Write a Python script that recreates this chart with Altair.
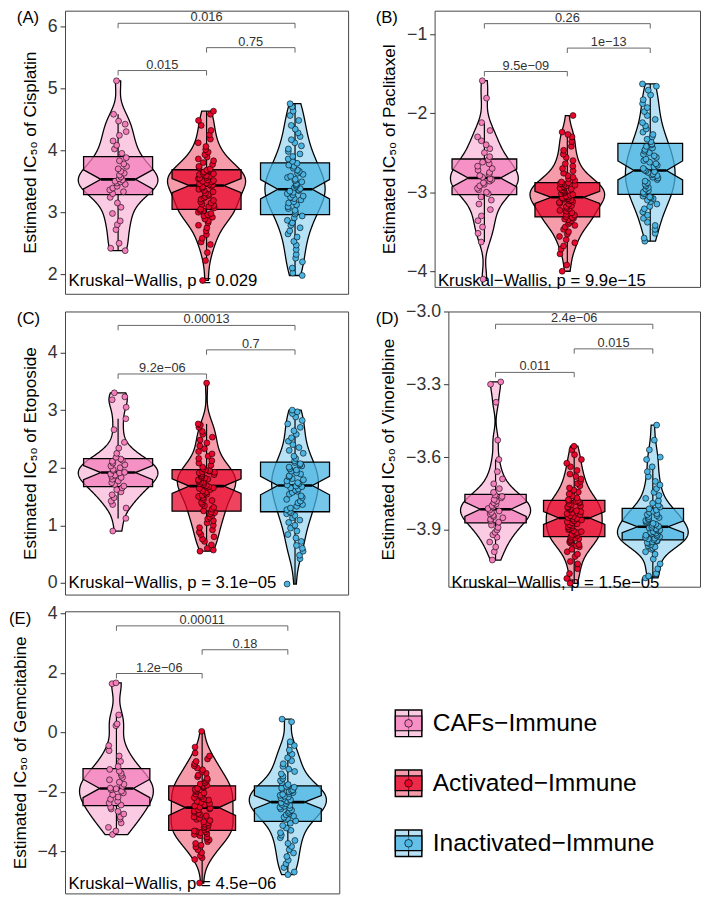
import altair as alt
import numpy as np
import pandas as pd

groups = ["CAFs−Immune", "Activated−Immune", "Inactivated−Immune"]
point_colors = ["#F47EBB", "#E8062B", "#4AB4E3"]
letters = ["(A)", "(B)", "(C)", "(D)", "(E)"]
drugs = ["Cisplatin", "Paclitaxel", "Etoposide", "Vinorelbine", "Gemcitabine"]

# ---- estimated IC50 values (per drug, per group) ----
cisplatin_cafs = [2.38, 2.42, 2.50, 2.72, 2.80, 2.86, 2.98, 3.08, 3.15, 3.24, 3.30, 3.33, 3.36, 3.39, 3.42, 3.45, 3.47, 3.49, 3.50, 3.52,
                  3.54, 3.57, 3.60, 3.63, 3.66, 3.70, 3.74, 3.78, 3.83, 3.88, 3.95, 4.02, 4.08, 4.15, 4.24, 4.30, 4.42, 4.47, 4.58, 5.12]
cisplatin_activated = [1.90, 2.22, 2.35, 2.48, 2.52, 2.58, 2.64, 2.70, 2.75, 2.79, 2.83, 2.86, 2.89, 2.92, 2.94, 2.96, 2.98, 3.00, 3.02, 3.03,
                       3.05, 3.07, 3.09, 3.11, 3.13, 3.15, 3.17, 3.19, 3.21, 3.23, 3.25, 3.27, 3.29, 3.31, 3.33, 3.35, 3.37, 3.39, 3.41, 3.42,
                       3.44, 3.45, 3.46, 3.47, 3.49, 3.50, 3.51, 3.52, 3.54, 3.55, 3.56, 3.58, 3.59, 3.61, 3.62, 3.63, 3.65, 3.66, 3.67, 3.68,
                       3.70, 3.72, 3.74, 3.77, 3.80, 3.83, 3.86, 3.89, 3.93, 3.97, 4.01, 4.06, 4.12, 4.18, 4.25, 4.32, 4.40, 4.48, 4.58, 4.63]
cisplatin_inactivated = [1.98, 2.02, 2.10, 2.20, 2.26, 2.32, 2.40, 2.47, 2.53, 2.60, 2.65, 2.70, 2.75, 2.79, 2.83, 2.87, 2.91, 2.94,
                         2.97, 3.00, 3.03, 3.06, 3.09, 3.12, 3.15, 3.17, 3.20, 3.22, 3.24, 3.26, 3.28, 3.30, 3.32, 3.34, 3.35, 3.36,
                         3.38, 3.40, 3.42, 3.44, 3.46, 3.49, 3.51, 3.53, 3.56, 3.58, 3.61, 3.63, 3.66, 3.68, 3.71, 3.74, 3.76, 3.79,
                         3.82, 3.86, 3.90, 3.94, 3.98, 4.02, 4.07, 4.12, 4.17, 4.22, 4.28, 4.34, 4.40, 4.48, 4.56, 4.63, 4.70, 4.75]

paclitaxel_cafs = [-4.10, -3.63, -3.52, -3.44, -3.36, -3.30, -3.22, -3.15, -3.10, -3.06, -3.02, -3.00, -2.97, -2.95, -2.92, -2.90, -2.88, -2.86, -2.84, -2.83,
                   -2.81, -2.79, -2.77, -2.75, -2.72, -2.70, -2.67, -2.64, -2.62, -2.59, -2.55, -2.50, -2.45, -2.40, -2.35, -2.30, -2.22, -2.12, -1.81, -1.59]
paclitaxel_activated = [-4.00, -3.92, -3.78, -3.72, -3.68, -3.64, -3.60, -3.56, -3.53, -3.50, -3.47, -3.44, -3.42, -3.40, -3.38, -3.36, -3.35, -3.34, -3.33, -3.32,
                        -3.31, -3.29, -3.28, -3.26, -3.24, -3.23, -3.21, -3.20, -3.18, -3.17, -3.15, -3.14, -3.13, -3.12, -3.11, -3.10, -3.09, -3.08, -3.08, -3.07,
                        -3.06, -3.05, -3.04, -3.03, -3.02, -3.01, -3.00, -2.99, -2.98, -2.97, -2.96, -2.95, -2.94, -2.93, -2.92, -2.91, -2.90, -2.89, -2.89, -2.88,
                        -2.87, -2.85, -2.83, -2.81, -2.79, -2.76, -2.73, -2.70, -2.67, -2.64, -2.60, -2.56, -2.52, -2.47, -2.42, -2.36, -2.30, -2.27, -2.24, -2.03]
paclitaxel_inactivated = [-3.62, -3.58, -3.52, -3.47, -3.42, -3.38, -3.33, -3.29, -3.25, -3.21, -3.18, -3.15, -3.12, -3.10, -3.08, -3.07, -3.06, -3.05,
                          -3.02, -3.00, -2.98, -2.96, -2.94, -2.92, -2.90, -2.88, -2.86, -2.84, -2.82, -2.81, -2.79, -2.78, -2.77, -2.75, -2.74, -2.73,
                          -2.72, -2.70, -2.68, -2.66, -2.64, -2.62, -2.60, -2.58, -2.56, -2.54, -2.52, -2.50, -2.48, -2.46, -2.44, -2.42, -2.40, -2.39,
                          -2.36, -2.33, -2.30, -2.27, -2.24, -2.20, -2.16, -2.12, -2.08, -2.03, -1.98, -1.93, -1.88, -1.83, -1.77, -1.71, -1.66, -1.63]

etoposide_cafs = [0.90, 1.12, 1.30, 1.36, 1.42, 1.48, 1.53, 1.58, 1.62, 1.65, 1.68, 1.71, 1.74, 1.77, 1.80, 1.83, 1.85, 1.87, 1.89, 1.91,
                  1.92, 1.95, 1.97, 2.00, 2.03, 2.05, 2.08, 2.11, 2.13, 2.15, 2.18, 2.25, 2.34, 2.44, 2.66, 2.85, 3.05, 3.18, 3.23, 3.30]
etoposide_activated = [0.55, 0.57, 0.60, 0.66, 0.72, 0.76, 0.80, 0.84, 0.88, 0.92, 0.96, 1.00, 1.04, 1.08, 1.11, 1.14, 1.17, 1.20, 1.22, 1.23,
                       1.25, 1.28, 1.31, 1.34, 1.37, 1.40, 1.43, 1.45, 1.48, 1.50, 1.52, 1.54, 1.56, 1.58, 1.60, 1.62, 1.64, 1.65, 1.66, 1.67,
                       1.69, 1.71, 1.72, 1.74, 1.75, 1.77, 1.79, 1.80, 1.82, 1.83, 1.85, 1.86, 1.88, 1.89, 1.91, 1.92, 1.93, 1.94, 1.95, 1.96,
                       1.98, 2.01, 2.04, 2.08, 2.12, 2.16, 2.20, 2.24, 2.28, 2.33, 2.38, 2.43, 2.48, 2.53, 2.58, 2.63, 2.70, 2.74, 2.76, 3.47]
etoposide_inactivated = [-0.02, 0.42, 0.48, 0.55, 0.60, 0.65, 0.72, 0.78, 0.84, 0.90, 0.95, 1.00, 1.05, 1.09, 1.13, 1.17, 1.20, 1.22,
                         1.24, 1.27, 1.30, 1.33, 1.36, 1.39, 1.42, 1.45, 1.48, 1.51, 1.54, 1.57, 1.59, 1.61, 1.63, 1.65, 1.67, 1.68,
                         1.70, 1.72, 1.74, 1.77, 1.79, 1.81, 1.84, 1.86, 1.89, 1.91, 1.94, 1.96, 1.98, 2.01, 2.03, 2.05, 2.07, 2.09,
                         2.12, 2.16, 2.20, 2.25, 2.30, 2.35, 2.40, 2.46, 2.52, 2.58, 2.64, 2.70, 2.76, 2.82, 2.88, 2.94, 2.97, 3.00]

vinorelbine_cafs = [-4.024, -3.99, -3.97, -3.95, -3.93, -3.92, -3.91, -3.90, -3.89, -3.88, -3.868, -3.862, -3.856, -3.850, -3.845, -3.840, -3.834, -3.828, -3.822, -3.818,
                    -3.812, -3.806, -3.800, -3.794, -3.788, -3.781, -3.775, -3.768, -3.762, -3.756, -3.745, -3.73, -3.71, -3.69, -3.66, -3.61, -3.53, -3.374, -3.30, -3.29]
vinorelbine_activated = [-4.12, -4.10, -4.08, -4.06, -4.04, -4.03, -4.01, -4.00, -3.99, -3.98, -3.97, -3.965, -3.96, -3.955, -3.95, -3.945, -3.94, -3.937, -3.934, -3.931,
                         -3.927, -3.923, -3.919, -3.915, -3.911, -3.907, -3.903, -3.899, -3.895, -3.891, -3.887, -3.883, -3.879, -3.875, -3.871, -3.867, -3.863, -3.859, -3.856, -3.853,
                         -3.849, -3.845, -3.841, -3.837, -3.833, -3.829, -3.825, -3.821, -3.817, -3.813, -3.809, -3.805, -3.801, -3.797, -3.793, -3.789, -3.786, -3.783, -3.781, -3.779,
                         -3.775, -3.768, -3.760, -3.752, -3.744, -3.736, -3.727, -3.718, -3.709, -3.70, -3.69, -3.68, -3.67, -3.655, -3.64, -3.625, -3.61, -3.59, -3.57, -3.555]
vinorelbine_inactivated = [-4.098, -4.09, -4.08, -4.06, -4.04, -4.02, -4.00, -3.99, -3.98, -3.975, -3.97, -3.965, -3.96, -3.955, -3.952, -3.949, -3.946, -3.944,
                           -3.940, -3.937, -3.934, -3.931, -3.928, -3.925, -3.922, -3.919, -3.916, -3.913, -3.910, -3.907, -3.904, -3.901, -3.898, -3.895, -3.892, -3.889,
                           -3.885, -3.881, -3.877, -3.873, -3.869, -3.865, -3.861, -3.857, -3.853, -3.849, -3.845, -3.841, -3.837, -3.833, -3.828, -3.823, -3.818, -3.813,
                           -3.806, -3.798, -3.790, -3.780, -3.770, -3.758, -3.745, -3.730, -3.715, -3.70, -3.68, -3.66, -3.64, -3.61, -3.60, -3.57, -3.53, -3.468]

gemcitabine_cafs = [-3.44, -3.32, -3.20, -3.05, -2.92, -2.85, -2.75, -2.66, -2.58, -2.52, -2.45, -2.38, -2.32, -2.25, -2.18, -2.10, -2.04, -1.98, -1.93, -1.90,
                    -1.88, -1.82, -1.75, -1.68, -1.60, -1.52, -1.45, -1.38, -1.31, -1.25, -1.15, -0.98, -0.80, -0.62, -0.45, 0.22, 0.28, 0.58, 1.63, 1.66]
gemcitabine_activated = [-5.07, -4.28, -4.22, -4.15, -4.05, -3.95, -3.86, -3.80, -3.74, -3.68, -3.62, -3.57, -3.52, -3.48, -3.44, -3.41, -3.38, -3.35, -3.33, -3.32,
                         -3.29, -3.25, -3.21, -3.17, -3.13, -3.09, -3.05, -3.01, -2.97, -2.93, -2.89, -2.85, -2.81, -2.77, -2.73, -2.69, -2.65, -2.61, -2.58, -2.55,
                         -2.52, -2.48, -2.44, -2.40, -2.36, -2.32, -2.28, -2.24, -2.20, -2.16, -2.12, -2.08, -2.04, -2.00, -1.96, -1.92, -1.89, -1.86, -1.83, -1.81,
                         -1.78, -1.74, -1.70, -1.65, -1.60, -1.55, -1.50, -1.44, -1.38, -1.32, -1.26, -1.20, -1.13, -1.06, -0.98, -0.90, -0.80, -0.70, -0.50, 0.03]
gemcitabine_inactivated = [-4.79, -4.70, -4.55, -4.42, -4.30, -4.18, -4.06, -3.95, -3.84, -3.74, -3.64, -3.55, -3.46, -3.38, -3.30, -3.22, -3.14, -3.06,
                           -2.98, -2.94, -2.90, -2.86, -2.82, -2.78, -2.74, -2.70, -2.66, -2.62, -2.58, -2.55, -2.52, -2.49, -2.46, -2.43, -2.40, -2.37,
                           -2.33, -2.30, -2.27, -2.24, -2.21, -2.18, -2.15, -2.12, -2.09, -2.06, -2.03, -2.00, -1.97, -1.94, -1.91, -1.88, -1.85, -1.82,
                           -1.76, -1.70, -1.63, -1.56, -1.48, -1.40, -1.32, -1.24, -1.15, -1.06, -0.96, -0.86, -0.74, -0.60, -0.45, -0.32, 0.35, 0.44]

panel_values = [
    [cisplatin_cafs, cisplatin_activated, cisplatin_inactivated],
    [paclitaxel_cafs, paclitaxel_activated, paclitaxel_inactivated],
    [etoposide_cafs, etoposide_activated, etoposide_inactivated],
    [vinorelbine_cafs, vinorelbine_activated, vinorelbine_inactivated],
    [gemcitabine_cafs, gemcitabine_activated, gemcitabine_inactivated],
]

# pairwise comparisons: (1 vs 2), (2 vs 3), (1 vs 3)
pairs = [(1, 2), (2, 3), (1, 3)]
pair_labels = [["0.015", "0.75", "0.016"],
               ["9.5e−09", "1e−13", "0.26"],
               ["9.2e−06", "0.7", "0.00013"],
               ["0.011", "0.015", "2.4e−06"],
               ["1.2e−06", "0.18", "0.00011"]]
bracket_heights = [[5.285, 5.654, 6.047],
                   [-1.473, -1.177, -0.868],
                   [3.627, 4.046, 4.47],
                   [-3.251, -3.154, -3.0526],
                   [1.974, 2.773, 3.576]]
bracket_tips = [0.08, 0.062, 0.085, 0.02, 0.165]
kw_labels = ["Kruskal−Wallis, p = 0.029", "Kruskal−Wallis, p = 9.9e−15", "Kruskal−Wallis, p = 3.1e−05",
             "Kruskal−Wallis, p = 1.5e−05", "Kruskal−Wallis, p = 4.5e−06"]
kw_y = [1.89, -4.12, 0.0, -4.119, -5.09]
y_domains = [[1.685, 6.25], [-4.198, -0.704], [-0.203, 4.712], [-4.134, -3.0], [-5.42, 4.066]]
y_ticks = [[2, 3, 4, 5, 6], [-4, -3, -2, -1], [0, 1, 2, 3, 4], [-3.9, -3.6, -3.3, -3.0], [-4, -2, 0, 2, 4]]
y_formats = ["d", "d", "d", ".1f", "d"]

# layout (pixels)
panel_sizes = [(288, 288), (270, 281), (288, 288), (256, 280), (279, 287)]
tag_dx = [-49, -60, -49, -74, -57]

FONT = "Liberation Sans"
VIOLIN_W = 0.9
BOX_W = 0.78
JIT = 0.095


def kde(v, n=256):
    v = np.asarray(v, dtype=float)
    sd = v.std(ddof=1)
    q75, q25 = np.percentile(v, [75, 25])
    bw = 0.9 * min(sd, (q75 - q25) / 1.34) * len(v) ** -0.2
    grid = np.linspace(v.min(), v.max(), n)
    d = np.exp(-0.5 * ((grid[:, None] - v[None, :]) / bw) ** 2).sum(1) / (len(v) * bw * np.sqrt(2 * np.pi))
    return grid, d


def jitter(n, seed):
    i = np.arange(n) + 1.0
    r = np.modf(np.abs(np.sin(i * 12.9898 + seed * 78.233) * 43758.5453))[0]
    return (2 * r - 1) * JIT


def panel(k):
    vals = panel_values[k]
    xs = alt.Scale(domain=[0.4, 3.6], nice=False, zero=False)
    ys = alt.Scale(domain=y_domains[k], nice=False, zero=False)
    yaxis = alt.Axis(title=f"Estimated IC₅₀ of {drugs[k]}", values=y_ticks[k], format=y_formats[k],
                     grid=False, domain=False, labelOverlap=False)

    def X(f):
        return alt.X(f"{f}:Q", scale=xs, axis=None, stack=False)

    def Y(f):
        return alt.Y(f"{f}:Q", scale=ys, axis=yaxis, stack=False)

    fill = alt.Fill("group:N", scale=alt.Scale(domain=groups, range=point_colors), legend=None)

    # violins
    dens = [kde(v) for v in vals]
    maxd = max(d.max() for _, d in dens)
    vrows = []
    for g, (grid, d) in enumerate(dens):
        half = d / maxd * VIOLIN_W / 2
        for yv, h in zip(grid, half):
            vrows.append({"group": groups[g], "y": yv, "xl": g + 1 - h, "xr": g + 1 + h})
    vdf = pd.DataFrame(vrows)

    # box statistics
    brows, mrows, wrows, prows = [], [], [], []
    for g, v in enumerate(vals):
        a = np.asarray(v, dtype=float)
        q1, med, q3 = np.percentile(a, [25, 50, 75])
        iqr = q3 - q1
        notch = 1.58 * iqr / np.sqrt(len(a))
        lo = a[a >= q1 - 1.5 * iqr].min()
        hi = a[a <= q3 + 1.5 * iqr].max()
        L, R = g + 1 - BOX_W / 2, g + 1 + BOX_W / 2
        ind = 0.25 * BOX_W
        for yv, xl, xr in [(q1, L, R), (med - notch, L, R), (med, L + ind, R - ind), (med + notch, L, R), (q3, L, R)]:
            brows.append({"group": groups[g], "y": yv, "xl": xl, "xr": xr})
        mrows.append({"group": groups[g], "y": med, "xl": L + ind, "xr": R - ind})
        wrows.append({"group": groups[g], "x": g + 1, "lo": lo, "q1": q1, "q3": q3, "hi": hi})
        for yv, jx in zip(a, jitter(len(a), k * 3 + g)):
            prows.append({"group": groups[g], "y": yv, "x": g + 1 + jx})
    bdf, mdf, wdf, pdf_ = pd.DataFrame(brows), pd.DataFrame(mrows), pd.DataFrame(wrows), pd.DataFrame(prows)

    # brackets
    krows = []
    for (a_, b_), lab, yb in zip(pairs, pair_labels[k], bracket_heights[k]):
        krows.append({"x1": a_, "x2": b_, "xm": (a_ + b_) / 2, "y": yb, "tip": yb - bracket_tips[k], "label": lab})
    kdf = pd.DataFrame(krows)

    kwdf = pd.DataFrame({"x": [0.44], "y": [kw_y[k]], "label": [kw_labels[k]]})
    tagdf = pd.DataFrame({"tag": [letters[k]]})

    tag = alt.Chart(tagdf).mark_text(align="left", baseline="top", fontSize=17, font=FONT, color="black").encode(
        x=alt.value(tag_dx[k]), y=alt.value(0), text="tag:N")
    kw = alt.Chart(kwdf).mark_text(align="left", baseline="middle", fontSize=17, font=FONT, color="black").encode(
        x=X("x"), y=Y("y"), text="label:N")
    violin = alt.Chart(vdf).mark_area(orient="horizontal", fillOpacity=0.4, stroke="black", strokeWidth=1.3).encode(
        y=Y("y"), x=X("xl"), x2="xr:Q", fill=fill)
    wlow = alt.Chart(wdf).mark_rule(color="black", strokeWidth=1.2).encode(x=X("x"), y=Y("lo"), y2="q1:Q")
    whigh = alt.Chart(wdf).mark_rule(color="black", strokeWidth=1.2).encode(x=X("x"), y=Y("q3"), y2="hi:Q")
    box = alt.Chart(bdf).mark_area(orient="horizontal", fillOpacity=0.75, stroke="black", strokeWidth=1.3).encode(
        y=Y("y"), x=X("xl"), x2="xr:Q", fill=fill)
    median = alt.Chart(mdf).mark_rule(color="black", strokeWidth=2.6).encode(x=X("xl"), x2="xr:Q", y=Y("y"))
    pts = alt.Chart(pdf_).mark_circle(size=36, opacity=1, stroke="black", strokeWidth=0.6).encode(
        x=X("x"), y=Y("y"), fill=fill)
    bcol = "#555555"
    bh = alt.Chart(kdf).mark_rule(color=bcol, strokeWidth=0.9).encode(x=X("x1"), x2="x2:Q", y=Y("y"))
    bl = alt.Chart(kdf).mark_rule(color=bcol, strokeWidth=0.9).encode(x=X("x1"), y=Y("tip"), y2="y:Q")
    br = alt.Chart(kdf).mark_rule(color=bcol, strokeWidth=0.9).encode(x=X("x2"), y=Y("tip"), y2="y:Q")
    bt = alt.Chart(kdf).mark_text(baseline="alphabetic", dy=-2, fontSize=13, font=FONT, color="#333333").encode(
        x=X("xm"), y=Y("y"), text="label:N")

    w, h = panel_sizes[k]
    return alt.layer(kw, violin, wlow, whigh, box, median, pts, bh, bl, br, bt, tag).properties(width=w, height=h)


# legend panel
leg = pd.DataFrame({"group": groups, "idx": [0, 1, 2]})
SQ, BX = 0.2213, 0.123
leg["sq_lo"], leg["sq_hi"] = leg["idx"] - SQ, leg["idx"] + SQ
leg["bx_lo"], leg["bx_hi"] = leg["idx"] - BX, leg["idx"] + BX
lys = alt.Scale(domain=[0, 2], range=[114, 236])
lfill = alt.Fill("group:N", scale=alt.Scale(domain=groups, range=point_colors), legend=None)
LY = lambda f: alt.Y(f"{f}:Q", scale=lys, axis=None)
legend = alt.layer(
    # invisible spacer that keeps the bottom row a little further down
    alt.Chart(leg.head(1)).mark_rule(opacity=0).encode(x=alt.value(0), y=alt.value(-8.5), y2=alt.value(0)),
    alt.Chart(leg).mark_rect(fillOpacity=0.4, stroke="black", strokeWidth=1.5).encode(
        x=alt.value(57), x2=alt.value(84), y=LY("sq_lo"), y2="sq_hi:Q", fill=lfill),
    alt.Chart(leg).mark_rule(color="black", strokeWidth=1.2).encode(x=alt.value(70.5), y=LY("sq_lo"), y2="sq_hi:Q"),
    alt.Chart(leg).mark_rect(fillOpacity=0.75, stroke="black", strokeWidth=1.2).encode(
        x=alt.value(57), x2=alt.value(84), y=LY("bx_lo"), y2="bx_hi:Q", fill=lfill),
    alt.Chart(leg).mark_circle(size=60, opacity=1, stroke="black", strokeWidth=0.7).encode(
        x=alt.value(70.5), y=LY("idx"), fill=lfill),
    alt.Chart(leg).mark_text(align="left", baseline="middle", fontSize=25, font=FONT, color="black").encode(
        x=alt.value(95), y=LY("idx"), text="group:N"),
).properties(width=350, height=287, view=alt.ViewBackground(stroke="transparent"))

row1 = alt.hconcat(panel(0), panel(1), spacing=88, bounds="flush")
row2 = alt.hconcat(panel(2), panel(3), spacing=102, bounds="flush")
row3 = alt.hconcat(panel(4), legend, spacing=0, bounds="flush")

chart = alt.vconcat(row1, row2, row3, spacing=7).properties(
    padding={"top": -7, "left": 0, "right": 0, "bottom": 0}
).configure_view(
    stroke="#444444", strokeWidth=1
).configure_axis(
    labelFont=FONT, labelFontSize=18, labelColor="#333333", labelPadding=3,
    titleFont=FONT, titleFontSize=17.5, titleFontWeight="normal", titleColor="black", titlePadding=8,
    tickColor="#333333", tickSize=5, tickWidth=1,
)

chart.save("out.html", embed_options={"renderer": "svg", "actions": False})
